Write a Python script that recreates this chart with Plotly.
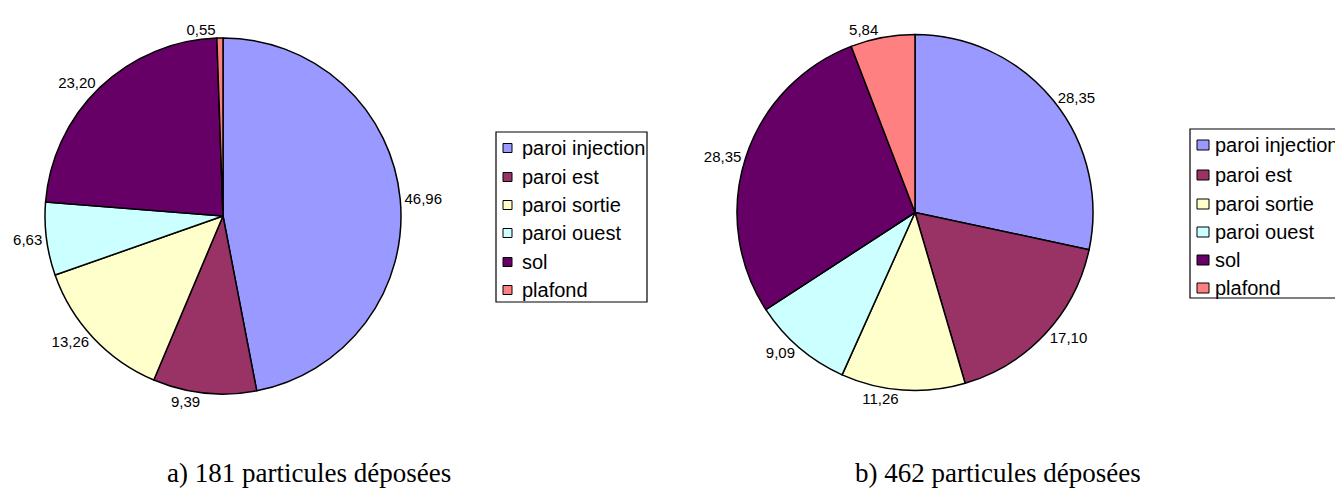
import plotly.graph_objects as go

W, H = 1335, 490

# Deposition surfaces and their share (%) of deposited particles
categories = ["paroi injection", "paroi est", "paroi sortie", "paroi ouest", "sol", "plafond"]
share_a = [46.96, 9.39, 13.26, 6.63, 23.20, 0.55]   # 181 particles
share_b = [28.35, 17.10, 11.26, 9.09, 28.35, 5.84]  # 462 particles
captions = ["a) 181 particules déposées", "b) 462 particules déposées"]

colors = ["#9999FF", "#993366", "#FFFFCC", "#CCFFFF", "#660066", "#FF8080"]
sans = "Liberation Sans, Arial, sans-serif"
serif = "Liberation Serif, Times New Roman, serif"


def px_x(x):
    return x / W


def px_y(y):
    return 1 - y / H


def pie(values, x0, x1, y0, y1):
    return go.Pie(
        labels=categories,
        values=values,
        sort=False,
        direction="clockwise",
        rotation=0,
        marker=dict(colors=colors, line=dict(color="black", width=1.5)),
        texttemplate="%{value:.2f}",
        textposition="outside",
        outsidetextfont=dict(family=sans, size=15, color="black"),
        hoverinfo="label+value",
        showlegend=False,
        domain=dict(x=[px_x(x0), px_x(x1)], y=[px_y(y1), px_y(y0)]),
    )


fig = go.Figure()
fig.add_trace(pie(share_a, 45, 401, 38, 394))
fig.add_trace(pie(share_b, 737, 1093, 34, 391))

shapes = []
annotations = []


def legend(box, sw_x, sw_w, sw_h, text_x, rows):
    bx0, by0, bx1, by1 = box
    shapes.append(dict(type="rect", xref="paper", yref="paper",
                       x0=px_x(bx0), x1=px_x(bx1), y0=px_y(by1), y1=px_y(by0),
                       line=dict(color="black", width=1.2), fillcolor="white", layer="below"))
    for name, col, yc in zip(categories, colors, rows):
        shapes.append(dict(type="rect", xref="paper", yref="paper",
                           x0=px_x(sw_x), x1=px_x(sw_x + sw_w),
                           y0=px_y(yc + sw_h / 2), y1=px_y(yc - sw_h / 2),
                           line=dict(color="black", width=1), fillcolor=col))
        annotations.append(dict(xref="paper", yref="paper", x=px_x(text_x), y=px_y(yc),
                                xanchor="left", yanchor="middle", showarrow=False,
                                text=name, font=dict(family=sans, size=20, color="black")))


legend((496, 132, 647, 302), 503, 9, 9, 520, [148, 177, 205, 233, 262, 290])
legend((1190, 129, 1345, 298), 1197, 12, 10, 1213, [145, 175, 204, 232, 260, 288])

for text, x in zip(captions, [165, 853]):
    annotations.append(dict(xref="paper", yref="paper", x=px_x(x), y=px_y(473),
                            xanchor="left", yanchor="middle", showarrow=False,
                            text=text, font=dict(family=serif, size=27, color="black")))

fig.update_layout(
    width=W, height=H,
    margin=dict(l=0, r=0, t=0, b=0),
    paper_bgcolor="white", plot_bgcolor="white",
    separators=", ",
    shapes=shapes,
    annotations=annotations,
)

fig.write_html("out.html")
